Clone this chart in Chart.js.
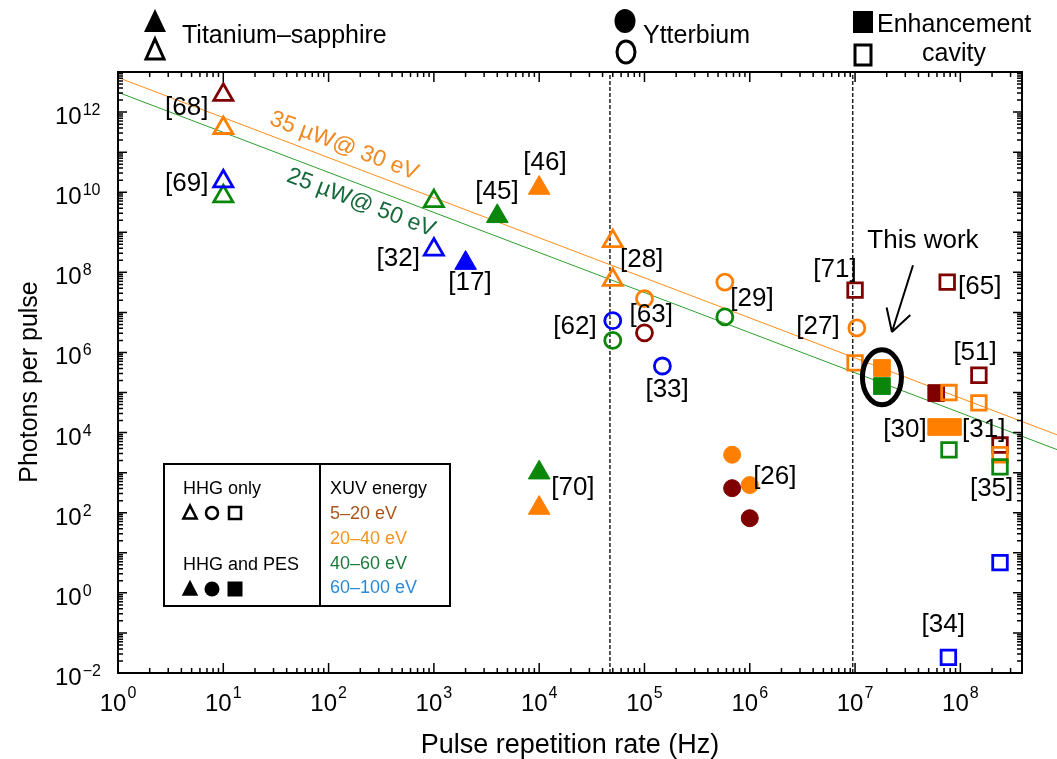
<!DOCTYPE html>
<html>
<head>
<meta charset="utf-8">
<title>Photons per pulse vs pulse repetition rate</title>
<script src="https://cdn.jsdelivr.net/npm/chart.js@4.4.1/dist/chart.umd.min.js"></script>
<style>
  html, body { margin: 0; padding: 0; background: #fff; }
  canvas { display: block; }
</style>
</head>
<body>
<canvas id="c" width="1057" height="759"></canvas>
<script>
// ---- Axis ticks (decade exponents that get a label) ----
const xTickExps = [0, 1, 2, 3, 4, 5, 6, 7, 8];
const yTickExps = [-2, 0, 2, 4, 6, 8, 10, 12];

// ---- Titanium-sapphire sources (x: Hz, y: photons per pulse) ----
const tiOpenRed      = [{x: 10, y: 2.7e12}];
const tiOpenOrange   = [{x: 10, y: 4e11}, {x: 5e4, y: 6e8}, {x: 5e4, y: 6.5e7}];
const tiOpenGreen    = [{x: 10, y: 7.9e9}, {x: 1e3, y: 6e9}];
const tiOpenBlue     = [{x: 10, y: 1.87e10}, {x: 1e3, y: 3.7e8}];
const tiFilledOrange = [{x: 1e4, y: 1.27e10}, {x: 1e4, y: 131}];
const tiFilledGreen  = [{x: 4e3, y: 2.5e9}, {x: 1e4, y: 1e3}];
const tiFilledBlue   = [{x: 2e3, y: 1.7e8}];

// ---- Ytterbium sources ----
const ybOpenRed      = [{x: 1e5, y: 3.1e6}];
const ybOpenOrange   = [{x: 1e5, y: 2.2e7}, {x: 5.8e5, y: 5.7e7}, {x: 1.04e7, y: 4.1e6}];
const ybOpenGreen    = [{x: 5e4, y: 2e6}, {x: 5.8e5, y: 7.7e6}];
const ybOpenBlue     = [{x: 5e4, y: 6.2e6}, {x: 1.48e5, y: 4.6e5}];
const ybFilledRed    = [{x: 6.8e5, y: 410}, {x: 1e6, y: 73}];
const ybFilledOrange = [{x: 6.8e5, y: 2.8e3}, {x: 1e6, y: 490}];

// ---- Enhancement-cavity sources ----
const cavOpenRed      = [{x: 1e7, y: 3.6e7}, {x: 7.5e7, y: 5.7e7}, {x: 1.5e8, y: 2.7e5}, {x: 2.38e8, y: 4.9e3}];
const cavOpenOrange   = [{x: 1e7, y: 5.5e5}, {x: 7.8e7, y: 1e5}, {x: 1.5e8, y: 5.5e4}, {x: 2.38e8, y: 2.8e3}];
const cavOpenGreen    = [{x: 7.8e7, y: 3.7e3}, {x: 2.38e8, y: 1.4e3}];
const cavOpenBlue     = [{x: 2.38e8, y: 5.7}, {x: 7.7e7, y: 0.0245}];
const cavFilledRed    = [{x: 5.9e7, y: 9.7e4}];
const cavFilledOrange = [{x: 1.8e7, y: 4.1e5}, {x: 5.9e7, y: 1.38e4}, {x: 8.5e7, y: 1.38e4}];
const cavFilledGreen  = [{x: 1.8e7, y: 1.45e5}];

// ---- Constant average-power lines: N = P / (E * f) ----
const power35uW30eV = [{x: 1, y: 7.28e12}, {x: 1e9, y: 7.28e3}];
const power25uW50eV = [{x: 1, y: 3.12e12}, {x: 1e9, y: 3.12e3}];

// ---- Dashed separators (repetition rate, Hz) ----
const separatorRates = [4.7e4, 9.5e6];

// ---- Reference tags, anchored in data units ----
const refTags = [
  {t: '[68]', x: 4.49, y: 1.24e12}, {t: '[69]', x: 4.49, y: 1.66e10},
  {t: '[32]', x: 459, y: 2.23e8},  {t: '[17]', x: 2.2e3, y: 5.4e7},
  {t: '[45]', x: 3.97e3, y: 1.01e10}, {t: '[46]', x: 1.135e4, y: 5.3e10},
  {t: '[28]', x: 9.4e4, y: 2.03e8}, {t: '[62]', x: 2.19e4, y: 4.3e6},
  {t: '[63]', x: 1.16e5, y: 8.6e6}, {t: '[33]', x: 1.64e5, y: 1.16e5},
  {t: '[29]', x: 1.05e6, y: 2.16e7}, {t: '[70]', x: 2.09e4, y: 414},
  {t: '[26]', x: 1.73e6, y: 778},  {t: '[71]', x: 6.44e6, y: 1.14e8},
  {t: '[27]', x: 4.45e6, y: 4.3e6}, {t: '[65]', x: 1.53e8, y: 4.3e7},
  {t: '[51]', x: 1.38e8, y: 9.7e5}, {t: '[30]', x: 2.98e7, y: 1.16e4},
  {t: '[31]', x: 1.67e8, y: 1.16e4}, {t: '[35]', x: 1.98e8, y: 406},
  {t: '[34]', x: 6.88e7, y: 0.158}
];
const thisWork = {t: 'This work', x: 4.41e7, y: 6.04e8, cx: 1.8e7, cy: 2.4e5,
                  arrowFrom: {x: 3.55e7, y: 1.5e8}, arrowTo: {x: 2.24e7, y: 3.24e6}};
const lineNotes = [
  {t: '35 \u00b5W@ 30 eV', x: 140, y: 1.42e11, color: '#f0891f', along: power35uW30eV},
  {t: '25 \u00b5W@ 50 eV', x: 203, y: 5.4e9, color: '#15693a', along: power25uW50eV}
];

// ---- Styling ----
const FONT = '"Liberation Sans", Arial, Helvetica, sans-serif';
const C = {red: '#800000', orange: '#ff8000', green: '#0a870a', blue: '#0000ff'};
const R_OPEN = {triangle: 11, circle: 8, rect: 10.3};
const R_FILLED = {triangle: 12.5, circle: 8.5, rect: 11.8};

function markers(data, style, color, filled, order) {
  return {
    data, order,
    showLine: false,
    pointStyle: style,
    pointRadius: filled ? R_FILLED[style] : R_OPEN[style],
    pointHoverRadius: filled ? R_FILLED[style] : R_OPEN[style],
    backgroundColor: filled ? color : 'rgba(0,0,0,0)',
    borderColor: color,
    borderWidth: filled ? 1 : 2.8
  };
}
function line(data, color, width, dash, order) {
  return {
    data, order,
    showLine: true,
    borderColor: color,
    borderWidth: width,
    borderDash: dash,
    pointRadius: 0,
    pointHoverRadius: 0,
    clip: false
  };
}

const datasets = [
  line(power35uW30eV, '#ff8c1a', 1, [], 20),
  line(power25uW50eV, '#2ca02c', 1, [], 20),
  ...separatorRates.map(r => line([{x: r, y: 1e-2}, {x: r, y: 1e13}], '#222', 1.5, [4, 2], 21)),

  markers(tiOpenRed, 'triangle', C.red, false, 6),
  markers(tiOpenOrange, 'triangle', C.orange, false, 5),
  markers(tiOpenGreen, 'triangle', C.green, false, 4),
  markers(tiOpenBlue, 'triangle', C.blue, false, 3),
  markers(tiFilledOrange, 'triangle', C.orange, true, 5),
  markers(tiFilledGreen, 'triangle', C.green, true, 4),
  markers(tiFilledBlue, 'triangle', C.blue, true, 3),

  markers(ybOpenRed, 'circle', C.red, false, 6),
  markers(ybOpenOrange, 'circle', C.orange, false, 5),
  markers(ybOpenGreen, 'circle', C.green, false, 4),
  markers(ybOpenBlue, 'circle', C.blue, false, 3),
  markers(ybFilledRed, 'circle', C.red, true, 5),
  markers(ybFilledOrange, 'circle', C.orange, true, 6),

  markers(cavOpenRed, 'rect', C.red, false, 6),
  markers(cavOpenOrange, 'rect', C.orange, false, 5),
  markers(cavOpenGreen, 'rect', C.green, false, 4),
  markers(cavOpenBlue, 'rect', C.blue, false, 3),
  markers(cavFilledRed, 'rect', C.red, true, 6),
  markers(cavFilledOrange, 'rect', C.orange, true, 5),
  markers(cavFilledGreen, 'rect', C.green, true, 4)
];

function expText(e) { return e < 0 ? '\u2212' + Math.abs(e) : String(e); }

function shapePath(ctx, kind, cx, cy, s) {
  ctx.beginPath();
  if (kind === 'tri') {
    ctx.moveTo(cx, cy - s * 0.62);
    ctx.lineTo(cx + s * 0.55, cy + s * 0.45);
    ctx.lineTo(cx - s * 0.55, cy + s * 0.45);
    ctx.closePath();
  } else if (kind === 'circ') {
    ctx.arc(cx, cy, s / 2, 0, Math.PI * 2);
  } else {
    ctx.rect(cx - s / 2, cy - s / 2, s, s);
  }
}

const decor = {
  id: 'decor',
  afterDatasetsDraw(chart) {
    const {ctx, chartArea: a, scales: {x, y}} = chart;
    ctx.save();

    // ticks on all four sides, pointing inward
    ctx.strokeStyle = '#000';
    ctx.lineWidth = 1.5;
    ctx.beginPath();
    const xk0 = Math.floor(Math.log10(x.min)), xk1 = Math.floor(Math.log10(x.max));
    for (let k = xk0; k <= xk1; k++) {
      for (let m = 1; m <= 9; m++) {
        const v = m * Math.pow(10, k);
        if (v > x.max * 1.0001) break;
        const px = x.getPixelForValue(v);
        const len = m === 1 ? 10 : 5;
        ctx.moveTo(px, a.bottom); ctx.lineTo(px, a.bottom - len);
        ctx.moveTo(px, a.top); ctx.lineTo(px, a.top + len);
      }
    }
    const yk0 = Math.floor(Math.log10(y.min)), yk1 = Math.floor(Math.log10(y.max));
    for (let k = yk0; k <= yk1; k++) {
      for (let m = 1; m <= 9; m++) {
        const v = m * Math.pow(10, k);
        if (v > y.max * 1.0001) break;
        const py = y.getPixelForValue(v);
        const len = m === 1 ? 9 : 5;
        ctx.moveTo(a.left, py); ctx.lineTo(a.left + len, py);
        ctx.moveTo(a.right, py); ctx.lineTo(a.right - len, py);
      }
    }
    ctx.stroke();

    // frame
    ctx.lineWidth = 2;
    ctx.strokeRect(a.left, a.top, a.right - a.left, a.bottom - a.top);

    // tick labels with superscript exponents
    ctx.fillStyle = '#000';
    ctx.textBaseline = 'alphabetic';
    ctx.textAlign = 'left';
    const baseFont = '24px ' + FONT, expFont = '16px ' + FONT;
    xTickExps.forEach(e => {
      const px = x.getPixelForValue(Math.pow(10, e));
      ctx.font = baseFont; const wb = ctx.measureText('10').width;
      ctx.font = expFont; const we = ctx.measureText(expText(e)).width;
      const x0 = px - (wb + we + 1) / 2;
      ctx.font = baseFont; ctx.fillText('10', x0, a.bottom + 38);
      ctx.font = expFont; ctx.fillText(expText(e), x0 + wb + 1, a.bottom + 25);
    });
    yTickExps.forEach(e => {
      const py = y.getPixelForValue(Math.pow(10, e));
      ctx.font = baseFont; const wb = ctx.measureText('10').width;
      ctx.fillText('10', 55, py + 12);
      ctx.font = expFont; ctx.fillText(expText(e), 55 + wb + 1, py + 3);
    });

    // axis titles
    ctx.font = '27px ' + FONT;
    ctx.textAlign = 'center';
    ctx.fillText('Pulse repetition rate (Hz)', (a.left + a.right) / 2, 753);
    ctx.save();
    ctx.translate(37, 382);
    ctx.rotate(-Math.PI / 2);
    ctx.font = '25px ' + FONT;
    ctx.fillText('Photons per pulse', 0, 0);
    ctx.restore();

    // reference tags
    ctx.font = '26px ' + FONT;
    ctx.textBaseline = 'middle';
    refTags.forEach(r => ctx.fillText(r.t, x.getPixelForValue(r.x), y.getPixelForValue(r.y)));

    // power-line annotations, rotated along their lines
    lineNotes.forEach(n => {
      const p0 = n.along[0], p1 = n.along[1];
      const ang = Math.atan2(y.getPixelForValue(p1.y) - y.getPixelForValue(p0.y),
                             x.getPixelForValue(p1.x) - x.getPixelForValue(p0.x));
      ctx.save();
      ctx.translate(x.getPixelForValue(n.x), y.getPixelForValue(n.y));
      ctx.rotate(ang);
      ctx.font = '23px ' + FONT;
      ctx.fillStyle = n.color;
      ctx.fillText(n.t, 0, 0);
      ctx.restore();
    });

    // "This work" marker: ellipse, arrow, caption
    ctx.strokeStyle = '#000';
    ctx.lineWidth = 5;
    ctx.beginPath();
    ctx.ellipse(x.getPixelForValue(thisWork.cx), y.getPixelForValue(thisWork.cy), 19.5, 27.5, 0, 0, Math.PI * 2);
    ctx.stroke();
    const ax0 = x.getPixelForValue(thisWork.arrowFrom.x), ay0 = y.getPixelForValue(thisWork.arrowFrom.y);
    const ax1 = x.getPixelForValue(thisWork.arrowTo.x), ay1 = y.getPixelForValue(thisWork.arrowTo.y);
    const back = Math.atan2(ay0 - ay1, ax0 - ax1);
    ctx.lineWidth = 2;
    ctx.beginPath();
    ctx.moveTo(ax0, ay0); ctx.lineTo(ax1, ay1);
    [-0.52, 0.52].forEach(d => {
      ctx.moveTo(ax1, ay1);
      ctx.lineTo(ax1 + 25 * Math.cos(back + d), ay1 + 25 * Math.sin(back + d));
    });
    ctx.stroke();
    ctx.fillStyle = '#000';
    ctx.font = '26px ' + FONT;
    ctx.fillText(thisWork.t, x.getPixelForValue(thisWork.x), y.getPixelForValue(thisWork.y));

    // inset key: marker fill meaning and XUV energy colours
    ctx.fillStyle = '#fff';
    ctx.fillRect(164, 464, 286, 142);
    ctx.strokeStyle = '#000';
    ctx.lineWidth = 2;
    ctx.strokeRect(164, 464, 286, 142);
    ctx.beginPath(); ctx.moveTo(320, 464); ctx.lineTo(320, 606); ctx.stroke();
    ctx.textAlign = 'left';
    ctx.textBaseline = 'alphabetic';
    ctx.font = '18px ' + FONT;
    ctx.fillStyle = '#000';
    ctx.fillText('HHG only', 183, 494);
    ctx.fillText('HHG and PES', 183, 570);
    ctx.fillText('XUV energy', 330, 494);
    [['5\u201320 eV', '#a9561c', 519], ['20\u201340 eV', '#f7931e', 544],
     ['40\u201360 eV', '#1b7b3b', 569], ['60\u2013100 eV', '#2a8ad6', 593]].forEach(([t, c, yy]) => {
      ctx.fillStyle = c; ctx.fillText(t, 330, yy);
    });
    ctx.lineWidth = 2.5;
    ctx.strokeStyle = '#000'; ctx.fillStyle = '#000';
    [['tri', 190], ['circ', 212], ['rect', 235]].forEach(([k, cx]) => {
      shapePath(ctx, k, cx, 513, 12); ctx.stroke();
      shapePath(ctx, k, cx, 589, 15); ctx.fill();
    });

    // top key: laser source families
    ctx.lineWidth = 3;
    ctx.beginPath(); ctx.moveTo(155, 9); ctx.lineTo(166, 32); ctx.lineTo(144, 32); ctx.closePath(); ctx.fill();
    ctx.beginPath(); ctx.moveTo(155, 39); ctx.lineTo(164, 59); ctx.lineTo(146, 59); ctx.closePath(); ctx.stroke();
    ctx.beginPath(); ctx.ellipse(625, 21, 10.5, 12, 0, 0, Math.PI * 2); ctx.fill();
    ctx.beginPath(); ctx.ellipse(626, 52, 9, 11, 0, 0, Math.PI * 2); ctx.stroke();
    ctx.fillRect(853, 11, 20, 22);
    ctx.strokeRect(855, 45, 16, 20);
    ctx.font = '25px ' + FONT;
    ctx.fillText('Titanium\u2013sapphire', 182, 43);
    ctx.fillText('Ytterbium', 643, 43);
    ctx.fillText('Enhancement', 877, 32);
    ctx.textAlign = 'center';
    ctx.fillText('cavity', 954, 61);

    ctx.restore();
  }
};

new Chart(document.getElementById('c'), {
  type: 'scatter',
  data: {datasets},
  options: {
    responsive: false,
    animation: false,
    devicePixelRatio: 1,
    layout: {padding: {top: 72, right: 35, left: 0, bottom: 0}},
    plugins: {legend: {display: false}, tooltip: {enabled: false}},
    scales: {
      x: {
        type: 'logarithmic', min: 1, max: 3.85e8, bounds: 'data',
        grid: {display: false}, border: {display: false}, ticks: {display: false},
        afterFit(s) { s.height = 86; }
      },
      y: {
        type: 'logarithmic', min: 1e-2, max: 1e13, bounds: 'data',
        grid: {display: false}, border: {display: false}, ticks: {display: false},
        afterFit(s) { s.width = 118; }
      }
    }
  },
  plugins: [decor]
});
</script>
</body>
</html>
